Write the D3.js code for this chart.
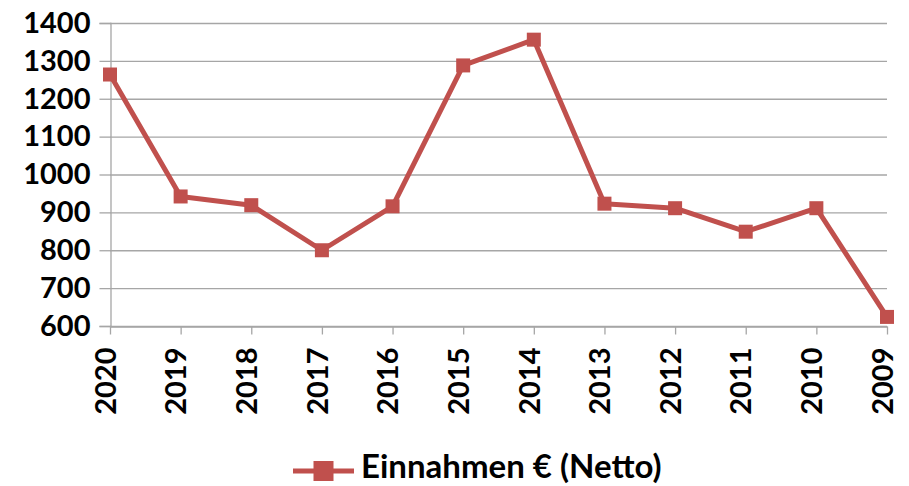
<!DOCTYPE html>
<html lang="de">
  <head>
    <meta charset="UTF-8" />
    <title>Einnahmen € (Netto)</title>
    <style>
      body {
        margin: 0;
        background: #fff;
        font-family: Lato, "Open Sans", sans-serif;
      }
      svg {
        display: block;
      }
      .tick text {
        font-family: Lato, sans-serif;
        font-weight: bold;
        font-size: 29px;
        fill: #000;
      }
    </style>
  </head>
  <body>
    <svg width="909" height="486"></svg>
    <script src="https://d3js.org/d3.v7.min.js"></script>
    <script>
      const years = ["2020", "2019", "2018", "2017", "2016", "2015", "2014", "2013", "2012", "2011", "2010", "2009"];
      const einnahmen = [1264, 942, 919, 800, 916, 1288, 1356, 923, 911, 849, 911, 624];
      const yTicks = [600, 700, 800, 900, 1000, 1100, 1200, 1300, 1400];
      const seriesName = "Einnahmen € (Netto)";

      const svg = d3.select("svg");
      const margin = { top: 23, right: 22, bottom: 160, left: 110 };
      const width = 909 - margin.left - margin.right,
        height = 486 - margin.top - margin.bottom;
      const red = "#c0504d";
      const gray = "#a6a6a6";

      const x = d3.scalePoint().domain(years).range([0, width]);
      const y = d3.scaleLinear().domain([600, 1400]).range([height, 0]);

      const g = svg.append("g").attr("transform", `translate(${margin.left},${margin.top})`);

      // horizontal grid lines
      g.append("g")
        .selectAll("line")
        .data(yTicks)
        .join("line")
        .attr("x1", 0)
        .attr("x2", width)
        .attr("y1", (d) => y(d) + 0.5)
        .attr("y2", (d) => y(d) + 0.5)
        .attr("stroke", gray)
        .attr("stroke-width", 1.3);

      // y axis
      const yAxis = g.append("g")
        .attr("transform", "translate(0.5,0)")
        .call(d3.axisLeft(y).tickValues(yTicks).tickFormat(d3.format("d")).tickSize(11).tickPadding(9));
      yAxis.select(".domain").attr("stroke", gray).attr("stroke-width", 1.3);
      yAxis.selectAll(".tick line").attr("stroke", gray).attr("stroke-width", 1.3);

      // x axis
      const xAxis = g.append("g")
        .attr("transform", `translate(0,${height + 0.5})`)
        .call(d3.axisBottom(x).tickSize(8).tickSizeOuter(0));
      xAxis.select(".domain").attr("stroke", gray).attr("stroke-width", 1.3);
      xAxis.selectAll(".tick line").attr("stroke", gray).attr("stroke-width", 1.3);
      xAxis.selectAll(".tick text")
        .attr("transform", "rotate(-90)")
        .attr("text-anchor", "end")
        .attr("x", -21)
        .attr("y", 0)
        .attr("dy", "0.18em");

      // line
      const line = d3.line()
        .x((d, i) => x(years[i]))
        .y((d) => y(d));

      g.append("path")
        .datum(einnahmen)
        .attr("fill", "none")
        .attr("stroke", red)
        .attr("stroke-width", 5)
        .attr("stroke-linejoin", "round")
        .attr("d", line);

      const ms = 14;
      g.append("g")
        .selectAll("rect")
        .data(einnahmen)
        .join("rect")
        .attr("x", (d, i) => x(years[i]) - ms / 2)
        .attr("y", (d) => y(d) - ms / 2)
        .attr("width", ms)
        .attr("height", ms)
        .attr("fill", red);

      // legend
      const lms = 20;
      const legend = svg.append("g").attr("transform", "translate(293,471)");
      legend.append("line")
        .attr("x1", 0)
        .attr("x2", 61)
        .attr("stroke", red)
        .attr("stroke-width", 5);
      legend.append("rect")
        .attr("x", 30.5 - lms / 2)
        .attr("y", -lms / 2)
        .attr("width", lms)
        .attr("height", lms)
        .attr("fill", red);
      legend.append("text")
        .attr("x", 68)
        .attr("y", 7)
        .attr("font-size", 33)
        .attr("font-weight", "bold")
        .text(seriesName);
    </script>
  </body>
</html>
